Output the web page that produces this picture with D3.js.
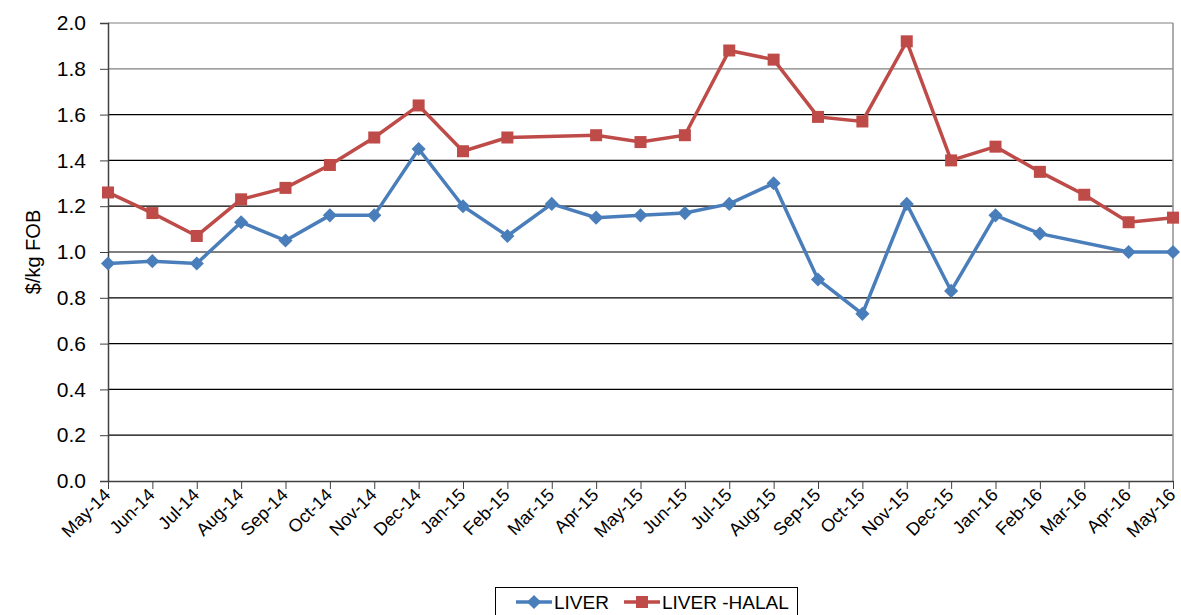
<!DOCTYPE html>
<html>
<head>
<meta charset="utf-8">
<script src="https://d3js.org/d3.v7.min.js"></script>
<style>
  body { margin: 0; background: #fff; }
  svg { font-family: "Liberation Sans", Arial, sans-serif; }
</style>
</head>
<body>
<svg id="chart" width="1181" height="615"></svg>
<script>
var months = ["May-14","Jun-14","Jul-14","Aug-14","Sep-14","Oct-14","Nov-14","Dec-14",
  "Jan-15","Feb-15","Mar-15","Apr-15","May-15","Jun-15","Jul-15","Aug-15","Sep-15",
  "Oct-15","Nov-15","Dec-15","Jan-16","Feb-16","Mar-16","Apr-16","May-16"];
var liver = [0.95,0.96,0.95,1.13,1.05,1.16,1.16,1.45,1.20,1.07,1.21,1.15,1.16,1.17,
  1.21,1.30,0.88,0.73,1.21,0.83,1.16,1.08,null,1.00,1.00];
var liverHalal = [1.26,1.17,1.07,1.23,1.28,1.38,1.50,1.64,1.44,1.50,null,1.51,1.48,1.51,
  1.88,1.84,1.59,1.57,1.92,1.40,1.46,1.35,1.25,1.13,1.15];
var yTicks = [0,0.2,0.4,0.6,0.8,1.0,1.2,1.4,1.6,1.8,2.0];

var svg = d3.select("#chart");
var pLeft = 108, pRight = 1173, pTop = 23, pBottom = 481;

var x = d3.scalePoint().domain(months).range([pLeft, pRight]);
var y = d3.scaleLinear().domain([0, 2]).range([pBottom, pTop]);

// gridlines
svg.append("g").selectAll("line").data(yTicks.slice(1)).enter().append("line")
  .attr("x1", pLeft).attr("x2", pRight)
  .attr("y1", d => y(d)).attr("y2", d => y(d))
  .attr("stroke", d => d >= 1.8 ? "#808080" : "#000").attr("stroke-width", 1.2);
// right border
svg.append("line").attr("x1", pRight).attr("x2", pRight).attr("y1", pTop).attr("y2", pBottom)
  .attr("stroke", "#909090").attr("stroke-width", 1.5);

// y axis
var yAxis = svg.append("g").attr("transform", "translate(" + pLeft + ",0)")
  .call(d3.axisLeft(y).tickValues(yTicks).tickFormat(d3.format(".1f")).tickSizeOuter(0).tickSize(8).tickPadding(14));
yAxis.select(".domain").attr("stroke", "#404040").attr("stroke-width", 1.5);
yAxis.selectAll(".tick line").attr("stroke", "#404040");
yAxis.selectAll("text").attr("font-size", 21).attr("fill", "#000")
  .attr("font-family", "Liberation Sans, Arial, sans-serif");

// x axis
var xAxis = svg.append("g").attr("transform", "translate(0," + pBottom + ")")
  .call(d3.axisBottom(x).tickSize(8).tickSizeOuter(0));
xAxis.select(".domain").attr("stroke", "#404040").attr("stroke-width", 1.5);
xAxis.selectAll(".tick line").attr("stroke", "#404040");
xAxis.selectAll("text").attr("font-size", 18).attr("fill", "#000")
  .attr("font-family", "Liberation Sans, Arial, sans-serif")
  .attr("text-anchor", "end").attr("dy", 0).attr("y", 0)
  .attr("transform", "translate(3,15) rotate(-45)");

// y label
svg.append("text").attr("transform", "translate(40," + ((pTop + pBottom) / 2) + ") rotate(-90)")
  .attr("text-anchor", "middle").attr("font-size", 20).text("$/kg FOB");

var line = d3.line().x(d => x(d.m)).y(d => y(d.v));
function pts(arr) { return months.map((m, i) => ({m: m, v: arr[i]})).filter(d => d.v != null); }

var blue = "#4a7ebb", red = "#be4b48";
var diamond = d3.symbol().type(d3.symbolSquare).size(100);

// series: line over gaps connects neighbouring points
svg.append("path").datum(pts(liver)).attr("d", line).attr("fill", "none")
  .attr("stroke", blue).attr("stroke-width", 3.5);
svg.append("g").selectAll("path").data(pts(liver)).enter().append("path")
  .attr("d", diamond).attr("transform", d => "translate(" + x(d.m) + "," + y(d.v) + ") rotate(45)")
  .attr("fill", blue);

svg.append("path").datum(pts(liverHalal)).attr("d", line).attr("fill", "none")
  .attr("stroke", red).attr("stroke-width", 3.5);
svg.append("g").selectAll("rect").data(pts(liverHalal)).enter().append("rect")
  .attr("x", d => x(d.m) - 6).attr("y", d => y(d.v) - 6)
  .attr("width", 12).attr("height", 12).attr("fill", red);

// legend
var lg = svg.append("g");
lg.append("rect").attr("x", 495.5).attr("y", 587.5).attr("width", 302).attr("height", 40)
  .attr("fill", "#fff").attr("stroke", "#000");
lg.append("line").attr("x1", 516).attr("x2", 552).attr("y1", 602).attr("y2", 602)
  .attr("stroke", blue).attr("stroke-width", 3.5);
lg.append("path").attr("d", diamond).attr("transform", "translate(534,602) rotate(45)").attr("fill", blue);
lg.append("text").attr("x", 554).attr("y", 609).attr("font-size", 19).text("LIVER");
lg.append("line").attr("x1", 624).attr("x2", 660).attr("y1", 602).attr("y2", 602)
  .attr("stroke", red).attr("stroke-width", 3.5);
lg.append("rect").attr("x", 636).attr("y", 596).attr("width", 12).attr("height", 12).attr("fill", red);
lg.append("text").attr("x", 662).attr("y", 609).attr("font-size", 19).text("LIVER -HALAL");
</script>
</body>
</html>
